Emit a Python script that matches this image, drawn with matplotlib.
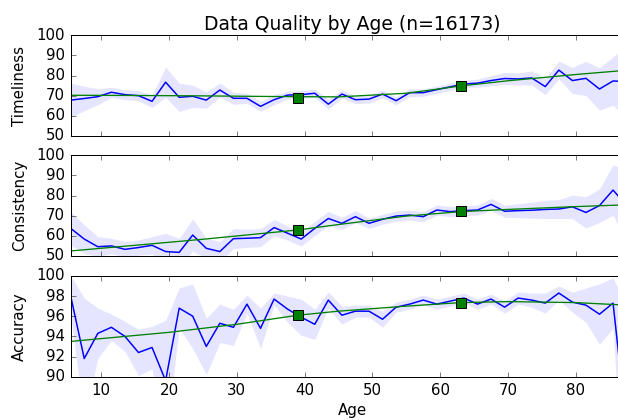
import matplotlib
matplotlib.use('Agg')
import matplotlib.pyplot as plt

plt.style.use('classic')
plt.rcParams['axes.formatter.useoffset'] = False

# idades (centro de cada faixa de 2 anos)
ages = [5.5, 7.5, 9.5, 11.5, 13.5, 15.5, 17.5, 19.5, 21.5, 23.5,
        25.5, 27.5, 29.5, 31.5, 33.5, 35.5, 37.5, 39.5, 41.5, 43.5,
        45.5, 47.5, 49.5, 51.5, 53.5, 55.5, 57.5, 59.5, 61.5, 63.5,
        65.5, 67.5, 69.5, 71.5, 73.5, 75.5, 77.5, 79.5, 81.5, 83.5,
        85.5, 87.5]

timeliness = [67.8, 68.6, 69.5, 71.7, 70.5, 70.0, 67.2, 76.7, 69.2, 69.7,
              67.8, 72.8, 68.7, 68.7, 64.7, 68.0, 70.3, 70.5, 71.2, 65.8,
              70.8, 68.0, 68.3, 70.8, 67.5, 71.5, 71.5, 73.0, 74.4, 75.8,
              76.2, 77.5, 78.5, 78.3, 78.8, 74.5, 82.7, 77.5, 78.6, 73.3,
              77.3, 77.0]
t_err = [8.5, 6.0, 4.0, 2.5, 2.5, 2.5, 3.0, 7.5, 7.0, 5.5,
         4.0, 3.5, 3.0, 2.5, 2.5, 2.5, 2.0, 2.0, 2.0, 2.5,
         2.0, 2.0, 2.0, 2.0, 2.0, 2.0, 1.8, 1.8, 1.8, 1.8,
         2.0, 2.5, 3.0, 3.0, 3.5, 4.0, 4.5, 6.5, 8.5, 10.5,
         12.0, 18.0]

consistency = [63.7, 58.4, 54.6, 55.0, 53.3, 54.2, 55.3, 52.2, 51.8, 60.4,
               53.8, 52.2, 58.6, 58.8, 59.1, 64.1, 61.3, 58.4, 63.7, 68.6,
               66.2, 69.5, 66.2, 68.2, 69.8, 70.3, 69.5, 72.8, 72.0, 72.5,
               72.8, 75.6, 72.2, 72.5, 72.7, 73.1, 73.3, 74.4, 71.6, 75.0,
               82.7, 75.0]
c_err = [8.3, 7.0, 5.0, 3.8, 3.9, 3.8, 4.3, 9.0, 7.0, 8.0,
         5.0, 5.0, 5.0, 4.5, 4.5, 4.0, 3.5, 3.5, 3.5, 3.5,
         3.0, 3.0, 2.5, 2.5, 2.5, 2.5, 2.5, 2.5, 2.5, 2.5,
         2.5, 3.0, 3.0, 3.5, 4.0, 4.5, 4.7, 5.8, 7.8, 8.3,
         12.5, 18.0]

accuracy = [98.0, 91.8, 94.3, 94.9, 94.0, 92.4, 92.9, 89.6, 96.8, 96.0,
            93.0, 95.3, 94.9, 97.2, 94.8, 97.7, 96.7, 95.9, 95.2, 97.6,
            96.1, 96.5, 96.5, 95.7, 96.9, 97.2, 97.6, 97.2, 97.5, 97.8,
            97.2, 97.7, 96.9, 97.8, 97.6, 97.3, 98.3, 97.4, 97.1, 96.2,
            97.3, 85.0]
a_err = [2.0, 6.0, 2.5, 1.3, 1.5, 2.3, 2.1, 6.0, 2.0, 3.2,
         2.8, 1.9, 1.8, 0.9, 2.0, 0.6, 1.3, 1.8, 1.5, 0.8,
         0.9, 0.6, 0.6, 0.8, 0.5, 0.5, 0.5, 0.5, 0.5, 0.5,
         0.5, 0.5, 0.6, 0.6, 0.7, 1.0, 0.7, 1.0, 1.7, 3.0,
         2.5, 12.0]

# curva ajustada (verde)
fit_t_ages = [5.5, 15, 25, 35, 45, 55, 63, 70, 80, 87.5]
fit_t = [70.2, 70.1, 69.9, 69.6, 69.4, 71.2, 74.8, 77.4, 80.5, 82.6]
fit_c_ages = [5.5, 15, 25, 39, 45, 55, 63, 70, 80, 87.5]
fit_c = [52.5, 55.3, 58.3, 62.9, 65.6, 69.8, 72.0, 73.1, 74.5, 75.4]
fit_a_ages = [5.5, 20, 30, 39, 45, 55, 63, 70, 80, 87.5]
fit_a = [93.5, 94.4, 95.2, 96.1, 96.5, 97.0, 97.35, 97.45, 97.35, 97.1]

# quadrados verdes
mark_ages = [39, 63]
t_mark = [69.0, 74.8]
c_mark = [62.9, 72.3]
a_mark = [96.1, 97.35]

paineis = [
    ('Timeliness', timeliness, t_err, fit_t_ages, fit_t, t_mark, (50, 100), [50, 60, 70, 80, 90, 100]),
    ('Consistency', consistency, c_err, fit_c_ages, fit_c, c_mark, (50, 100), [50, 60, 70, 80, 90, 100]),
    ('Accuracy', accuracy, a_err, fit_a_ages, fit_a, a_mark, (90, 100), [90, 92, 94, 96, 98, 100]),
]

fig = plt.figure(figsize=(618 / 72, 420 / 72), dpi=72, facecolor='white')
bottoms = [0.6762, 0.3905, 0.1031]

# o eixo passa da borda direita da figura (como no original, cortado)
for k, (nome, y, err, fx, fy, marks, lim, yt) in enumerate(paineis):
    ax = fig.add_axes([0.1144, bottoms[k], 0.9105, 0.2400])
    lo = [v - e for v, e in zip(y, err)]
    hi = [v + e for v, e in zip(y, err)]
    ax.fill_between(ages, lo, hi, color='b', alpha=0.1, linewidth=0)
    ax.plot(ages, y, color='b', lw=1.5)
    ax.plot(fx, fy, color='g', lw=1.3)
    ax.plot(mark_ages, marks, 's', color='g', mec='k', ms=10, mew=1)
    ax.set_xlim(5.5, 88.5)
    ax.set_ylim(*lim)
    ax.set_yticks(yt)
    ax.set_xticks([10, 20, 30, 40, 50, 60, 70, 80])
    ax.set_ylabel(nome, fontsize=15, labelpad=9)
    ax.tick_params(labelsize=15, length=5, pad=6)
    if k < 2:
        ax.set_xticklabels([])
    else:
        ax.set_xlabel('Age', fontsize=15)
    if k == 0:
        ax.set_title('Data Quality by Age (n=16173)', fontsize=18.8)

fig.savefig('out.png', dpi=72, facecolor='white')
